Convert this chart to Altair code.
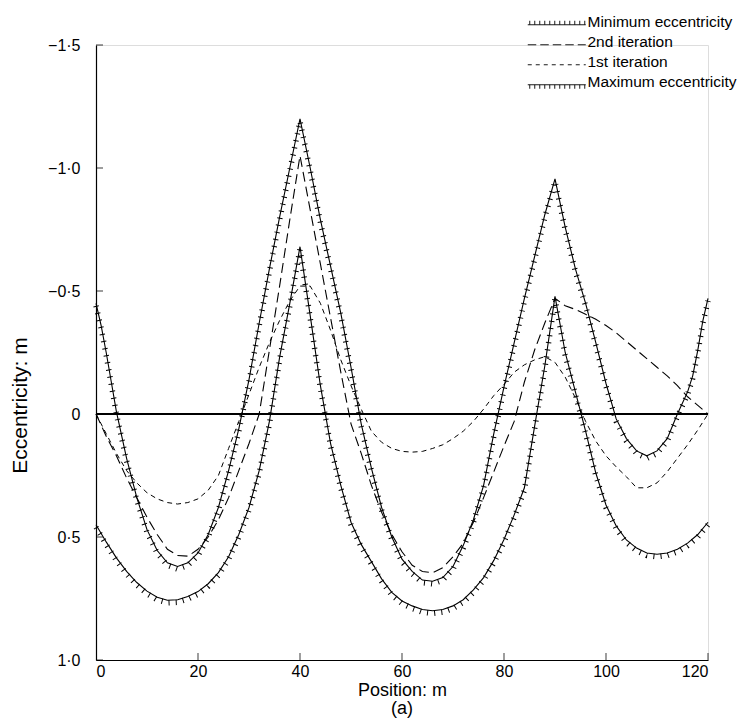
import altair as alt
import pandas as pd

# ---------------- data ----------------
names = ["Minimum eccentricity", "2nd iteration", "1st iteration", "Maximum eccentricity"]

min_x = [0, 1, 2, 3, 4] + list(range(6, 117, 2)) + [117, 118, 119, 120]
min_v = [-0.45, -0.36, -0.25, -0.13, -0.01,
         0.18, 0.34, 0.47, 0.555, 0.605, 0.62, 0.605, 0.565, 0.49, 0.38, 0.23, 0.06,
         -0.14, -0.37, -0.59, -0.80, -1.0, -1.2, -1.0, -0.79, -0.60, -0.41, -0.19,
         0.04, 0.22, 0.38, 0.5, 0.59, 0.64, 0.675, 0.68, 0.665, 0.62, 0.535, 0.43,
         0.29, 0.08, -0.11, -0.29, -0.47, -0.64, -0.81, -0.956, -0.76, -0.59, -0.45,
         -0.29, -0.124, 0.02, 0.1, 0.15, 0.17, 0.15, 0.1, 0.0, -0.09,
         -0.155, -0.26, -0.38, -0.47]

grid_x = list(range(0, 121, 2))
max_v = [0.45, 0.52, 0.585, 0.64, 0.685, 0.72, 0.745, 0.757, 0.755, 0.742, 0.722,
         0.69, 0.645, 0.58, 0.49, 0.38, 0.23, 0.03, -0.23, -0.45, -0.68,
         -0.40, -0.115, 0.12, 0.29, 0.44, 0.53, 0.6, 0.67, 0.725, 0.76,
         0.78, 0.795, 0.8, 0.795, 0.78, 0.755, 0.715, 0.665, 0.595, 0.51,
         0.41, 0.3, 0.05, -0.195, -0.478, -0.25, -0.09, 0.07, 0.24, 0.37,
         0.455, 0.512, 0.545, 0.565, 0.57, 0.565, 0.55, 0.525, 0.49, 0.44]

it2_v = [0, 0.09, 0.17, 0.26, 0.34, 0.42, 0.49, 0.55, 0.575, 0.578, 0.55,
         0.5, 0.43, 0.34, 0.23, 0.12, 0.0, -0.26, -0.52, -0.79, -1.05,
         -0.83, -0.61, -0.39, -0.17, 0.04, 0.16, 0.29, 0.40, 0.49, 0.56,
         0.615, 0.64, 0.645, 0.625, 0.58, 0.525, 0.44, 0.34, 0.235, 0.13,
         0.03, -0.13, -0.26, -0.37, -0.47, -0.44, -0.425, -0.405, -0.385, -0.36,
         -0.33, -0.295, -0.26, -0.225, -0.19, -0.155, -0.115, -0.07, -0.035, 0.0]

it1_v = [0, 0.08, 0.16, 0.23, 0.28, 0.32, 0.345, 0.36, 0.366, 0.36, 0.345,
         0.31, 0.25, 0.14, 0.03, -0.08, -0.19, -0.29, -0.38, -0.46, -0.52,
         -0.52, -0.45, -0.34, -0.22, -0.115, -0.02, 0.07, 0.115, 0.14, 0.152,
         0.155, 0.152, 0.14, 0.125, 0.1, 0.07, 0.03, -0.02, -0.075, -0.12,
         -0.17, -0.2, -0.22, -0.233, -0.21, -0.15, -0.065, 0.03, 0.11, 0.17,
         0.215, 0.255, 0.3, 0.3, 0.28, 0.235, 0.18, 0.125, 0.065, 0.0]

x_ticks = [0, 20, 40, 60, 80, 100, 120]
y_ticks = [-1.5, -1.0, -0.5, 0, 0.5, 1.0]

# ---------------- tables ----------------
def frame(xs, vs, name):
    return pd.DataFrame({"position": xs, "ecc": vs, "series": name})

df = pd.concat([
    frame(min_x, min_v, names[0]),
    frame(grid_x, it2_v, names[1]),
    frame(grid_x, it1_v, names[2]),
    frame(grid_x, max_v, names[3]),
], ignore_index=True)

xtick_df = pd.DataFrame({"position": x_ticks[1:]})
ytick_df = pd.DataFrame({"ecc": y_ticks})

FONT = "Liberation Sans"

xsc = alt.Scale(domain=[0, 120], nice=False, zero=False)
ysc = alt.Scale(domain=[-1.5, 1.0], reverse=True, nice=False, zero=False)

x_enc = alt.X("position:Q", scale=xsc,
              axis=alt.Axis(values=x_ticks, title="Position: m", ticks=False, grid=False,
                            domainColor="black", domainWidth=1.2, labelFontSize=16,
                            labelFont=FONT, labelColor="black", labelPadding=3,
                            titleFont=FONT, titleFontSize=18, titleFontWeight="normal",
                            titleColor="black", titleY=30, titleBaseline="middle"))
y_enc = alt.Y("ecc:Q", scale=ysc,
              axis=alt.Axis(values=y_ticks, title="Eccentricity: m", ticks=False, grid=False,
                            domainColor="black", domainWidth=1.2, labelFontSize=16,
                            labelFont=FONT, labelColor="black", labelPadding=16,
                            labelExpr="datum.value == 0 ? '0' : replace(format(datum.value, '.1f'), '.', '\u00b7')",
                            titleFont=FONT, titleFontSize=21, titleFontWeight="normal",
                            titleColor="black", titleX=-76, titleY=360,
                            titleBaseline="middle", titleAlign="center"))

base = alt.Chart(df)

def series(name):
    return base.transform_filter(alt.datum.series == name)

zero_line = alt.Chart(df).mark_rule(color="black", strokeWidth=0.6).encode(y=alt.datum(0))

solid_min = series(names[0]).mark_line(color="black", strokeWidth=1.1).encode(x=x_enc, y=y_enc)
solid_max = series(names[3]).mark_line(color="black", strokeWidth=1.1).encode(x=x_enc, y=y_enc)

hatch_style = dict(color="black", strokeWidth=5.5, strokeDash=[1.0, 6.2], yOffset=2.6,
                   strokeJoin="bevel")
hatch_min = series(names[0]).mark_line(**hatch_style).encode(x="position:Q", y="ecc:Q")
hatch_max = series(names[3]).mark_line(**hatch_style).encode(x="position:Q", y="ecc:Q")

dash2 = series(names[1]).mark_line(color="black", strokeWidth=1.1, strokeDash=[10, 5]).encode(
    x="position:Q", y="ecc:Q")
dash1 = series(names[2]).mark_line(color="black", strokeWidth=1.0, strokeDash=[5, 4]).encode(
    x="position:Q", y="ecc:Q")

xticks_layer = alt.Chart(xtick_df).mark_tick(orient="vertical", color="black", size=7,
                                             thickness=1.1, yOffset=-3.5).encode(
    x="position:Q", y=alt.datum(1.0))
yticks_layer = alt.Chart(ytick_df).mark_tick(orient="horizontal", color="black", size=7,
                                             thickness=1.1, xOffset=3.5).encode(
    y="ecc:Q", x=alt.datum(0))

# legend symbols: custom paths (scale 5 px per unit, symbol size 100)
def hatched_path(sign):
    p = "M-1,0.6L10.6,0.6"
    for i in range(12):
        xx = -0.6 + i * 1.0
        p += f"M{xx:.2f},0.6L{xx:.2f},{0.6 + sign * 0.8:.2f}"
    return p

def dashed_path(dash, gap):
    p = ""
    xx = -1.0
    while xx < 10.6:
        x2 = min(xx + dash, 10.6)
        p += f"M{xx:.2f},0.6L{x2:.2f},0.6"
        xx += dash + gap
    return p

paths = [hatched_path(-1), dashed_path(1.7, 0.8), dashed_path(0.8, 0.8), hatched_path(1)]

legend_layer = base.mark_point(opacity=0, filled=False, color="black", size=100).encode(
    x="position:Q", y="ecc:Q",
    shape=alt.Shape("series:N", scale=alt.Scale(domain=names, range=paths),
                    legend=alt.Legend(title=None, orient="none", legendX=429, legendY=-31,
                                      symbolSize=100, symbolStrokeWidth=0.9,
                                      symbolStrokeColor="black", symbolOpacity=1,
                                      labelFont=FONT, labelFontSize=15.5, labelColor="black",
                                      labelOffset=47, rowPadding=3)))

chart = alt.layer(
    zero_line, solid_min, solid_max, hatch_min, hatch_max, dash2, dash1,
    xticks_layer, yticks_layer, legend_layer
).properties(
    width=612, height=615,
    autosize=alt.AutoSizeParams(type="none"),
    padding={"left": 96, "top": 45, "right": 36, "bottom": 61},
    title=alt.TitleParams("(a)", orient="bottom", font=FONT, fontSize=18,
                          fontWeight="normal", color="black", offset=1),
).configure_view(stroke=None).configure(background="white")

chart.save("out.html", embed_options={"renderer": "svg", "actions": False})
